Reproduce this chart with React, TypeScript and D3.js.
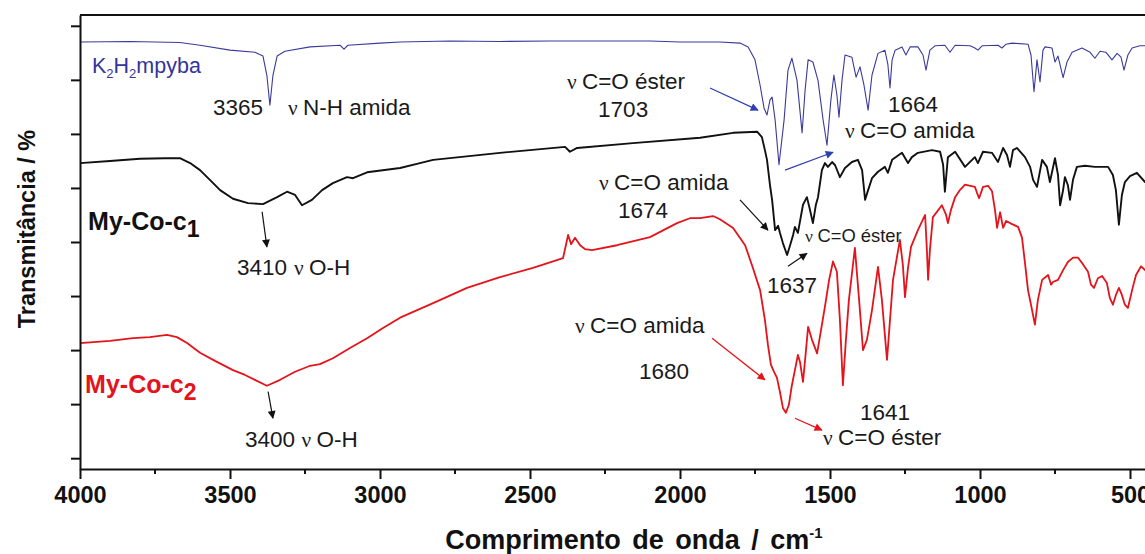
import { useEffect, useRef } from 'react';
import * as d3 from 'd3';

// wavenumber (cm-1), transmittance (arb. units, offset per trace)
const blueSpectrum: [number, number][] = [
  [4000, 77.0], [3833, 77.1], [3667, 76.9], [3600, 76.4], [3500, 75.5], [3417, 75.1],
  [3390, 74.4], [3377, 70.8], [3367, 65.3], [3357, 70.8], [3343, 74.4], [3317, 75.3],
  [3233, 76.1], [3133, 76.4], [3120, 75.7], [3107, 76.4], [3000, 76.8], [2933, 77.0],
  [2767, 77.2], [2600, 77.1], [2433, 77.2], [2267, 77.2], [2100, 77.2], [2000, 77.0],
  [1867, 77.0], [1800, 76.8], [1773, 76.1], [1750, 73.7], [1733, 69.0], [1720, 64.8],
  [1710, 63.5], [1700, 66.3], [1693, 66.8], [1683, 62.6], [1670, 54.3], [1653, 62.6],
  [1640, 71.8], [1627, 74.0], [1610, 69.9], [1593, 60.2], [1583, 68.1], [1573, 73.7],
  [1557, 73.3], [1540, 69.9], [1523, 62.6], [1510, 57.9], [1497, 66.3], [1487, 70.9],
  [1477, 67.2], [1470, 63.1], [1460, 69.9], [1450, 74.6], [1427, 74.2], [1413, 70.5],
  [1400, 72.4], [1387, 69.1], [1373, 64.4], [1360, 70.9], [1340, 74.9], [1317, 75.5],
  [1307, 72.8], [1300, 68.5], [1293, 73.7], [1283, 75.5], [1260, 76.1], [1247, 74.6],
  [1233, 76.1], [1207, 76.1], [1190, 74.6], [1180, 71.8], [1167, 75.5], [1150, 76.3],
  [1117, 76.4], [1100, 75.1], [1083, 76.4], [1033, 76.3], [1017, 75.9], [1007, 75.5],
  [993, 76.3], [940, 76.4], [927, 75.9], [913, 76.6], [893, 76.8], [840, 76.6],
  [830, 74.6], [820, 67.8], [810, 73.7], [800, 69.6], [790, 75.5], [783, 76.1],
  [760, 75.9], [750, 73.3], [740, 74.4], [723, 70.4], [710, 73.3], [693, 75.1],
  [660, 75.9], [633, 75.1], [617, 74.0], [600, 75.3], [580, 75.1], [560, 73.7],
  [543, 74.9], [530, 74.2], [520, 71.8], [507, 74.6], [493, 75.9], [467, 76.3], [433, 76.3],
];

const blackSpectrum: [number, number][] = [
  [4000, 54.6], [3900, 55.0], [3800, 55.4], [3717, 55.5], [3667, 55.5], [3633, 54.6],
  [3600, 53.3], [3567, 51.5], [3533, 49.6], [3490, 48.0], [3440, 47.2], [3390, 47.0],
  [3343, 48.3], [3310, 49.3], [3283, 48.7], [3260, 46.8], [3227, 47.8], [3193, 49.6],
  [3157, 50.9], [3110, 52.0], [3090, 51.8], [3043, 52.9], [2933, 53.7], [2867, 54.6],
  [2823, 55.2], [2600, 56.5], [2383, 57.6], [2367, 56.7], [2343, 57.4], [2157, 58.3],
  [1933, 59.3], [1823, 60.2], [1743, 60.4], [1727, 59.4], [1717, 57.0], [1710, 55.2],
  [1700, 50.5], [1693, 47.8], [1683, 42.2], [1673, 43.0], [1667, 41.7], [1657, 39.8],
  [1643, 37.6], [1633, 39.4], [1623, 41.3], [1617, 42.8], [1607, 41.7], [1590, 46.9],
  [1577, 48.3], [1567, 46.0], [1557, 43.5], [1547, 46.9], [1540, 48.3], [1527, 53.3],
  [1517, 54.6], [1507, 53.9], [1493, 54.8], [1483, 54.2], [1467, 52.0], [1450, 53.7],
  [1427, 54.8], [1407, 55.2], [1393, 53.3], [1383, 47.8], [1373, 49.6], [1360, 51.8],
  [1340, 53.0], [1317, 53.9], [1307, 52.8], [1293, 55.2], [1260, 56.5], [1240, 54.6],
  [1227, 55.7], [1207, 56.5], [1160, 57.0], [1133, 56.7], [1123, 54.3], [1117, 49.3],
  [1107, 55.7], [1083, 56.7], [1050, 53.9], [1017, 55.7], [1007, 54.6], [990, 56.7],
  [960, 56.5], [940, 54.8], [923, 57.4], [910, 56.1], [900, 53.9], [890, 57.0],
  [877, 57.4], [850, 55.7], [833, 53.9], [823, 51.5], [810, 50.2], [793, 55.2],
  [777, 53.9], [767, 51.1], [750, 55.5], [740, 52.4], [733, 46.8], [723, 49.6],
  [717, 52.0], [707, 50.5], [700, 47.8], [690, 51.5], [677, 53.9], [650, 54.1],
  [617, 53.9], [573, 53.9], [557, 52.4], [547, 49.6], [537, 43.2], [527, 48.7],
  [517, 51.1], [500, 52.2], [477, 52.8], [450, 51.1], [417, 51.5],
];

const redSpectrum: [number, number][] = [
  [4000, 21.3], [3900, 21.7], [3823, 22.2], [3767, 22.4], [3710, 22.8], [3677, 22.4],
  [3643, 21.3], [3600, 19.5], [3550, 18.0], [3490, 16.3], [3450, 15.4], [3417, 14.5],
  [3377, 13.4], [3333, 14.5], [3283, 16.0], [3233, 17.1], [3200, 17.4], [3157, 18.5],
  [3100, 20.4], [3043, 22.2], [2990, 24.1], [2933, 26.0], [2823, 28.7], [2710, 31.5],
  [2600, 33.5], [2490, 35.2], [2390, 37.0], [2380, 39.5], [2373, 41.3], [2363, 39.6],
  [2350, 40.8], [2333, 39.4], [2317, 38.7], [2293, 38.5], [2210, 39.4], [2100, 40.9],
  [2010, 43.5], [1967, 44.4], [1933, 44.4], [1890, 44.8], [1867, 44.2], [1823, 42.6],
  [1783, 39.4], [1760, 35.7], [1733, 31.1], [1717, 25.6], [1707, 21.0], [1697, 17.3],
  [1687, 16.0], [1677, 14.9], [1667, 12.3], [1657, 9.3], [1647, 8.4], [1637, 9.9],
  [1627, 13.5], [1617, 16.3], [1607, 19.1], [1600, 17.8], [1590, 14.1], [1580, 20.0],
  [1573, 24.3], [1560, 21.9], [1543, 19.4], [1530, 23.7], [1517, 28.0], [1503, 33.0],
  [1490, 36.4], [1477, 34.5], [1467, 25.6], [1457, 13.5], [1447, 21.9], [1437, 29.3],
  [1417, 38.9], [1403, 29.3], [1390, 20.0], [1377, 21.9], [1360, 27.4], [1340, 35.4],
  [1327, 29.3], [1310, 18.2], [1300, 25.6], [1290, 33.0], [1267, 40.4], [1257, 35.7],
  [1250, 29.8], [1240, 35.2], [1230, 39.1], [1207, 42.2], [1183, 45.0], [1177, 38.5],
  [1173, 33.0], [1167, 38.5], [1157, 44.6], [1127, 46.8], [1113, 45.0], [1107, 43.5],
  [1097, 45.9], [1083, 48.3], [1067, 49.6], [1050, 50.6], [1017, 50.2], [1010, 49.1],
  [1003, 48.1], [990, 50.2], [973, 50.4], [960, 49.4], [950, 45.9], [943, 42.6],
  [933, 45.5], [923, 42.6], [913, 43.9], [893, 43.3], [873, 42.8], [860, 40.8],
  [850, 36.1], [840, 31.1], [830, 28.4], [817, 24.7], [807, 29.3], [793, 33.0],
  [773, 33.9], [763, 32.1], [757, 32.6], [740, 33.0], [723, 34.8], [707, 36.3],
  [690, 37.1], [673, 37.1], [657, 35.9], [640, 34.5], [630, 32.1], [620, 31.5],
  [607, 33.3], [593, 33.7], [577, 32.4], [567, 29.6], [557, 28.4], [547, 30.2],
  [537, 31.5], [527, 30.2], [517, 28.4], [507, 27.8], [493, 31.1], [480, 33.9],
  [463, 35.5], [450, 34.8], [417, 35.2],
];

const xMajorTicks = [4000, 3500, 3000, 2500, 2000, 1500, 1000, 500];
const xMinorTicks = [3750, 3250, 2750, 2250, 1750, 1250, 750];
const yTicks = [0, 10, 20, 30, 40, 50, 60, 70, 80];

// annotation texts: [wavenumber, value, text, size]
const notes: [number, number, string, number][] = [
  [3557, 63.5, '3365', 22.5],
  [3307, 63.5, 'ν N-H amida', 22.5],
  [2377, 68.3, 'ν C=O éster', 22.5],
  [2273, 63.1, '1703', 22.5],
  [1307, 64.0, '1664', 22.5],
  [1450, 59.2, 'ν C=O amida', 22.5],
  [2270, 49.6, 'ν C=O amida', 22.5],
  [2207, 44.4, '1674', 22.5],
  [1583, 40.0, 'ν C=O éster', 18.4],
  [1710, 30.6, '1637', 22.5],
  [3477, 33.9, '3410', 22.5],
  [3287, 33.9, 'ν O-H', 22.5],
  [2350, 23.2, 'ν C=O amida', 22.5],
  [2137, 14.7, '1680', 22.5],
  [1400, 7.1, '1641', 22.5],
  [1523, 2.4, 'ν C=O éster', 22.5],
  [3450, 2.1, '3400', 22.5],
  [3262, 2.1, 'ν O-H', 22.5],
];

// arrows: [w1, v1, w2, v2, colour]
const arrows: [number, number, number, number, string][] = [
  [1900, 68.5, 1740, 64.4, '#2f3fae'],
  [1650, 53.3, 1490, 56.6, '#2f3fae'],
  [1800, 47.8, 1707, 42.2, '#111'],
  [1640, 35.5, 1577, 37.9, '#111'],
  [3393, 45.6, 3377, 39.1, '#111'],
  [1893, 22.2, 1717, 14.5, '#e3141b'],
  [1617, 7.4, 1527, 5.2, '#e3141b'],
  [3373, 12.3, 3357, 7.4, '#111'],
];

const W = 1145;
const H = 554;
const PLOT = { left: 80, right: 1160, top: 15, bottom: 469 };
const BLUE = '#3a3a9c';
const RED = '#e3141b';
const SANS = 'Liberation Sans, Arial, sans-serif';

export default function App() {
  const svgRef = useRef<SVGSVGElement>(null);

  useEffect(() => {
    if (!svgRef.current) return;
    const svg = d3.select(svgRef.current);
    svg.selectAll('*').remove();

    const x = d3.scaleLinear().domain([4000, 400]).range([PLOT.left, PLOT.right]);
    const y = d3.scaleLinear().domain([-2, 82]).range([PLOT.bottom, PLOT.top]);

    const defs = svg.append('defs');
    const arrowColors = Array.from(new Set(arrows.map(a => a[4])));
    arrowColors.forEach((c, i) => {
      defs
        .append('marker')
        .attr('id', `arr${i}`)
        .attr('viewBox', '0 0 10 10')
        .attr('refX', 9)
        .attr('refY', 5)
        .attr('markerWidth', 13)
        .attr('markerHeight', 8)
        .attr('markerUnits', 'userSpaceOnUse')
        .attr('orient', 'auto')
        .append('path')
        .attr('d', 'M0,0 L10,5 L0,10 Z')
        .attr('fill', c);
    });

    // ── Spectra ──────────────────────────────────────────────
    const line = d3
      .line<[number, number]>()
      .x(d => x(d[0]))
      .y(d => y(d[1]));

    const traces: [[number, number][], string, number][] = [
      [blueSpectrum, BLUE, 1.1],
      [blackSpectrum, '#111', 1.9],
      [redSpectrum, RED, 1.8],
    ];
    traces.forEach(([data, color, width]) => {
      svg
        .append('path')
        .attr('d', line(data))
        .attr('fill', 'none')
        .attr('stroke', color)
        .attr('stroke-width', width)
        .attr('stroke-linejoin', 'round');
    });

    // ── Frame & axes ─────────────────────────────────────────
    svg
      .append('line')
      .attr('x1', PLOT.left).attr('x2', PLOT.right)
      .attr('y1', PLOT.top).attr('y2', PLOT.top)
      .attr('stroke', '#111').attr('stroke-width', 2);

    const xAxis = svg
      .append('g')
      .attr('transform', `translate(0,${PLOT.bottom})`)
      .call(
        d3
          .axisBottom(x)
          .tickValues(xMajorTicks)
          .tickSize(10)
          .tickSizeOuter(0)
          .tickPadding(7)
          .tickFormat(d3.format('d')),
      );
    xAxis.select('.domain').attr('stroke', '#111').attr('stroke-width', 2);
    xAxis.selectAll('.tick line').attr('stroke', '#111').attr('stroke-width', 2);
    xAxis
      .selectAll('.tick text')
      .attr('fill', '#111')
      .attr('font-size', 23.5)
      .attr('font-weight', 'bold')
      .attr('font-family', SANS);

    svg
      .append('g')
      .selectAll('line')
      .data(xMinorTicks)
      .join('line')
      .attr('x1', d => x(d)).attr('x2', d => x(d))
      .attr('y1', PLOT.bottom).attr('y2', PLOT.bottom + 5)
      .attr('stroke', '#111').attr('stroke-width', 2);

    const yAxis = svg
      .append('g')
      .attr('transform', `translate(${PLOT.left},0)`)
      .call(d3.axisLeft(y).tickValues(yTicks).tickSize(9).tickSizeOuter(0).tickFormat(() => ''));
    yAxis.select('.domain').attr('stroke', '#111').attr('stroke-width', 2);
    yAxis.selectAll('.tick line').attr('stroke', '#111').attr('stroke-width', 2);

    // ── Axis titles ──────────────────────────────────────────
    const xt = svg
      .append('text')
      .attr('x', 634)
      .attr('y', 549)
      .attr('text-anchor', 'middle')
      .attr('font-family', SANS)
      .attr('font-weight', 'bold')
      .attr('font-size', 27)
      .attr('word-spacing', 4)
      .attr('fill', '#111');
    xt.append('tspan').text('Comprimento de onda / cm');
    xt.append('tspan').attr('font-size', 15).attr('dy', -11).text('-1');

    svg
      .append('text')
      .attr('transform', `translate(35,${(PLOT.top + PLOT.bottom) / 2 - 13}) rotate(-90)`)
      .attr('text-anchor', 'middle')
      .attr('font-family', SANS)
      .attr('font-weight', 'bold')
      .attr('font-size', 23.5)
      .attr('fill', '#111')
      .text('Transmitância / %');

    // ── Trace names ─────────────────────────────────────────
    const k = svg
      .append('text')
      .attr('x', x(3960))
      .attr('y', y(71.3))
      .attr('font-family', SANS)
      .attr('font-size', 21.5)
      .attr('fill', '#34349a');
    k.append('tspan').text('K');
    k.append('tspan').attr('font-size', 13).attr('dy', 5).text('2');
    k.append('tspan').attr('dy', -5).text('H');
    k.append('tspan').attr('font-size', 13).attr('dy', 5).text('2');
    k.append('tspan').attr('dy', -5).text('mpyba');

    const names: [number, number, string, string][] = [
      [3973, 42.2, '1', '#111'],
      [3983, 12.0, '2', RED],
    ];
    names.forEach(([w, v, sub, color]) => {
      const t = svg
        .append('text')
        .attr('x', x(w))
        .attr('y', y(v))
        .attr('font-family', SANS)
        .attr('font-weight', 'bold')
        .attr('font-size', 25)
        .attr('fill', color);
      t.append('tspan').text('My-Co-c');
      t.append('tspan').attr('font-size', 23).attr('dy', 7).text(sub);
    });

    // ── Annotations ─────────────────────────────────────────
    notes.forEach(([w, v, label, size]) => {
      const t = svg
        .append('text')
        .attr('x', x(w))
        .attr('y', y(v))
        .attr('font-family', SANS)
        .attr('font-size', size)
        .attr('fill', '#1a1a1a');
      if (label.startsWith('ν')) {
        t.append('tspan')
          .attr('font-family', 'Liberation Serif, Times New Roman, serif')
          .attr('font-size', size * 0.95)
          .text('ν ');
        t.append('tspan').text(label.slice(2));
      } else {
        t.text(label);
      }
    });

    arrows.forEach(([w1, v1, w2, v2, c]) => {
      svg
        .append('line')
        .attr('x1', x(w1)).attr('y1', y(v1))
        .attr('x2', x(w2)).attr('y2', y(v2))
        .attr('stroke', c)
        .attr('stroke-width', 1.2)
        .attr('marker-end', `url(#arr${arrowColors.indexOf(c)})`);
    });
  }, []);

  return (
    <div style={{ position: 'absolute', left: 0, top: 0, width: W, height: H, overflow: 'hidden', background: '#fff' }}>
      <svg ref={svgRef} width={W} height={H} style={{ display: 'block' }} />
    </div>
  );
}
